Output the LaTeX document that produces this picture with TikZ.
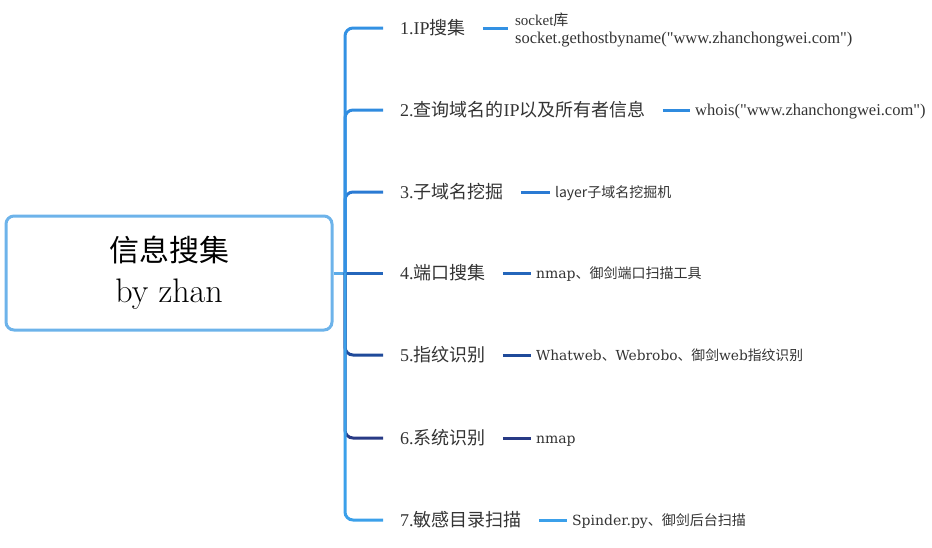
\documentclass[tikz,border=0pt]{standalone}
\usepackage{fontspec}
\setmainfont{Liberation Serif}
\newfontfamily\cjk{Noto Sans CJK SC}
\newfontfamily\dvs{DejaVu Serif}
\newfontfamily\lmr{Latin Modern Roman}
\newcommand\zh[1]{{\cjk #1}}
\newcommand\qq{\XeTeXglyph\numexpr\XeTeXcharglyph"22\relax}
\definecolor{cA}{HTML}{3391E3}
\definecolor{cB}{HTML}{2F8BDF}
\definecolor{cC}{HTML}{2A7AD3}
\definecolor{cD}{HTML}{2466BB}
\definecolor{cE}{HTML}{1F4A9A}
\definecolor{cF}{HTML}{283A85}
\definecolor{cG}{HTML}{3BA0EA}
\definecolor{rootln}{HTML}{5AAAE8}
\definecolor{boxln}{HTML}{6DB3EA}
\definecolor{txt}{HTML}{333333}
\begin{document}
\begin{tikzpicture}[x=1pt,y=-1pt,
  conn/.style={line width=3pt, rounded corners=8pt},
  rootbox/.style={draw=boxln, line width=3pt, rounded corners=8pt, minimum width=326pt, minimum height=114pt, align=center, inner sep=0pt, font=\fontsize{30}{41}\selectfont},
  lab/.style={anchor=west, inner xsep=17pt, inner ysep=0pt, font=\fontsize{18}{22}\selectfont, text=txt, text height=15pt, text depth=1.4pt},
  det/.style={anchor=west, inner xsep=5pt, inner ysep=0pt, font=\fontsize{14}{18}\selectfont\dvs, text=txt, text height=11pt, text depth=0.5pt},
  detml/.style={anchor=west, inner xsep=7pt, inner ysep=0pt, font=\fontsize{16.5}{18}\selectfont, text=txt, align=left},
]
\useasboundingbox (0,0) rectangle (932,547);
\node[rootbox] (root) at (169,273) {{\cjk\fontsize{30}{41}\selectfont 信息搜集}\\{\lmr\fontsize{34}{41}\selectfont by zhan}};
\coordinate (j) at (345,273);
% level-1 labels
\node[lab] (l1) at (383,28) {1.IP\zh{搜集}};
\node[lab] (l2) at (383,110) {2.\zh{查询域名的}IP\zh{以及所有者信息}};
\node[lab] (l3) at (383,192) {3.\zh{子域名挖掘}};
\node[lab] (l4) at (383,273) {4.\zh{端口搜集}};
\node[lab] (l5) at (383,355) {5.\zh{指纹识别}};
\node[lab] (l6) at (383,438) {6.\zh{系统识别}};
\node[lab] (l7) at (383,520) {7.\zh{敏感目录扫描}};
% details
\node[detml] (d1) at ([xshift=25pt,yshift=-2pt]l1.east) {{\fontsize{15}{18}\selectfont socket\zh{库}}\\socket.gethostbyname(\qq www.zhanchongwei.com\qq)};
\node[det, font=\fontsize{16.5}{18}\selectfont] (d2) at ([xshift=27pt]l2.east) {whois(\qq www.zhanchongwei.com\qq)};
\node[det, font=\fontsize{14}{18}\selectfont\cjk] (d3) at ([xshift=29pt]l3.east) {layer子域名挖掘机};
\node[det] (d4) at ([xshift=28pt]l4.east) {nmap\zh{、御剑端口扫描工具}};
\node[det, font=\fontsize{13.8}{18}\selectfont\dvs] (d5) at ([xshift=28pt]l5.east) {Whatweb\zh{、}Webrobo\zh{、御剑}web\zh{指纹识别}};
\node[det] (d6) at ([xshift=28pt]l6.east) {nmap};
\node[det] (d7) at ([xshift=28pt]l7.east) {Spinder.py\zh{、御剑后台扫描}};
% root to trunk
\draw[line width=3pt, rootln] (root.east) -- (j);
% branches (inner first, outer last)
\draw[conn, cD] (j) -- (l4.west);
\draw[conn, cC] (j) |- (l3.west);
\draw[conn, cE] (j) |- (l5.west);
\draw[conn, cB] (j) |- (l2.west);
\draw[conn, cF] (j) |- (l6.west);
\draw[conn, cA] (j) |- (l1.west);
\draw[conn, cG] (j) |- (l7.west);
% detail connectors
\draw[conn, cA] (l1.east) -- (l1.east -| d1.west);
\draw[conn, cB] (l2.east) -- (d2.west);
\draw[conn, cC] (l3.east) -- (d3.west);
\draw[conn, cD] (l4.east) -- (d4.west);
\draw[conn, cE] (l5.east) -- (d5.west);
\draw[conn, cF] (l6.east) -- (d6.west);
\draw[conn, cG] (l7.east) -- (d7.west);
\end{tikzpicture}
\end{document}
